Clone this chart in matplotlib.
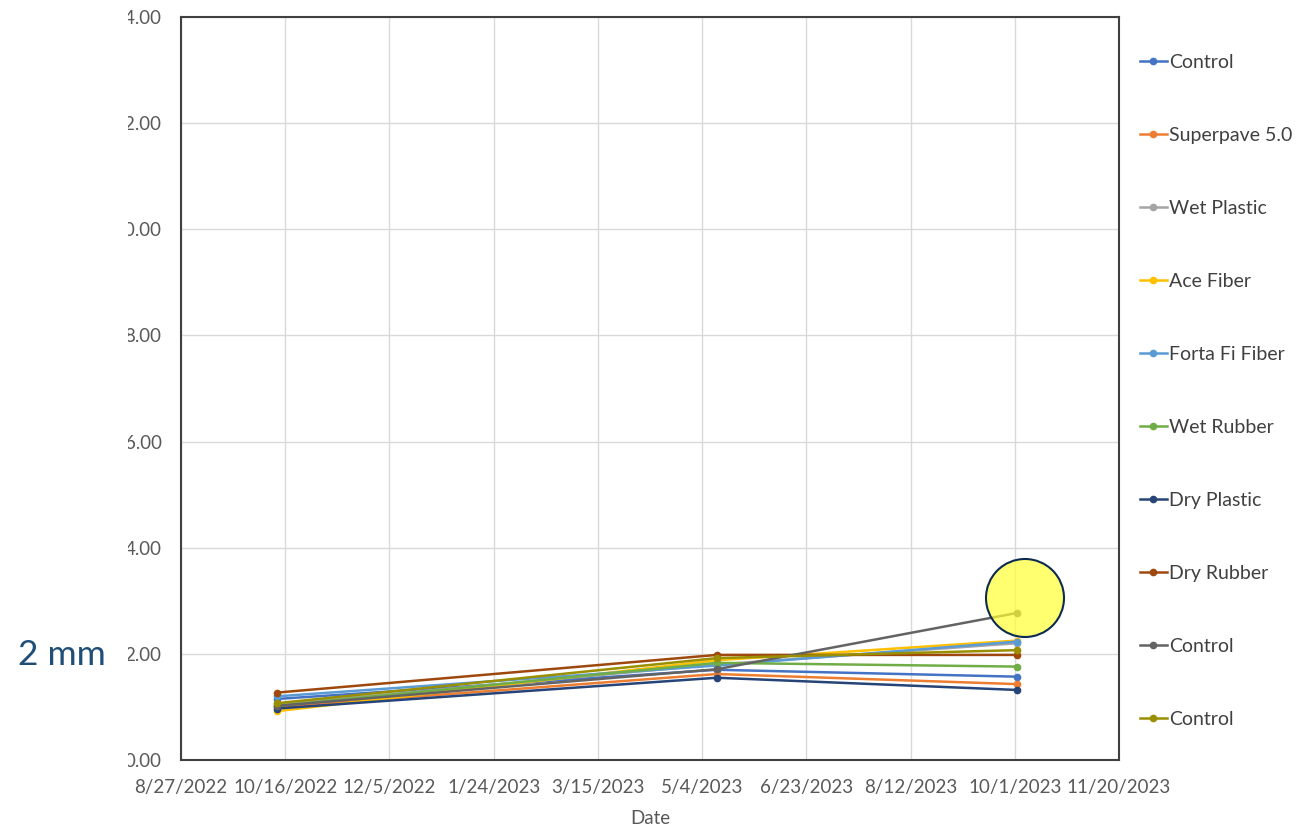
import matplotlib
matplotlib.use("Agg")
import matplotlib.pyplot as plt
import matplotlib.dates as mdates
from matplotlib.patches import Rectangle, Circle
from matplotlib.ticker import FuncFormatter, FixedLocator
import datetime as dt

plt.rcParams['font.family'] = ['Lato', 'DejaVu Sans']

# Survey dates
dates = [dt.date(2022, 10, 12), dt.date(2023, 5, 11), dt.date(2023, 10, 2)]

# Rut depth per section (mm)
series_names = ["Control", "Superpave 5.0", "Wet Plastic", "Ace Fiber", "Forta Fi Fiber",
                "Wet Rubber", "Dry Plastic", "Dry Rubber", "Control", "Control"]
control_a = [1.15, 1.70, 1.57]
superpave = [1.00, 1.62, 1.43]
wet_plastic = [1.05, 1.80, 2.20]
ace_fiber = [0.92, 1.88, 2.25]
forta_fi = [1.20, 1.78, 2.23]
wet_rubber = [1.02, 1.83, 1.76]
dry_plastic = [0.97, 1.55, 1.32]
dry_rubber = [1.27, 1.98, 1.98]
control_b = [1.02, 1.71, 2.77]
control_c = [1.07, 1.92, 2.07]
series_values = [control_a, superpave, wet_plastic, ace_fiber, forta_fi,
                 wet_rubber, dry_plastic, dry_rubber, control_b, control_c]
series_colors = ["#4472C4", "#ED7D31", "#A5A5A5", "#FFC000", "#5B9BD5",
                 "#70AD47", "#264478", "#9E480E", "#636363", "#998F00"]

y_ticks = [0, 2, 4, 6, 8, 10, 12, 14]
x_start = dt.date(2022, 8, 27)
x_end = dt.date(2023, 11, 20)
x_ticks = [x_start + dt.timedelta(days=50 * i) for i in range(10)]

W, H = 1308, 827
fig = plt.figure(figsize=(W / 100, H / 100), dpi=100)
ax = fig.add_axes([181 / W, 1 - 760 / H, (1119 - 181) / W, (760 - 17) / H])

for name, vals, col in zip(series_names, series_values, series_colors):
    ax.plot(dates, vals, color=col, lw=1.8, marker="o", ms=4.5, label=name)

ax.set_xlim(x_start, x_end)
ax.set_ylim(0, 14)
ax.xaxis.set_major_locator(FixedLocator([mdates.date2num(d) for d in x_ticks]))
ax.xaxis.set_major_formatter(FuncFormatter(
    lambda v, p: (lambda d: f"{d.month}/{d.day}/{d.year}")(mdates.num2date(v))))
ax.set_yticks(y_ticks)
ax.yaxis.set_major_formatter(FuncFormatter(lambda v, p: f"{v:.2f}"))

ax.grid(True, color="#D9D9D9", lw=1)
ax.set_axisbelow(True)
ax.tick_params(length=0, labelsize=13.5, colors="#595959")
ax.tick_params(axis="y", pad=14)
ax.tick_params(axis="x", pad=14)
for s in ax.spines.values():
    s.set_color("#404040")
    s.set_linewidth(1.5)
ax.set_xlabel("Date", fontsize=13.5, color="#595959", labelpad=10)

leg = ax.legend(loc="upper left", bbox_to_anchor=(1132 / W, 1 - 46 / H),
                bbox_transform=fig.transFigure, frameon=False, fontsize=14,
                labelspacing=2.88, handlelength=1.4, handletextpad=0.1,
                borderaxespad=0)
for t in leg.get_texts():
    t.set_color("#404040")

# White band hiding the left edge of the value labels
fig.patches.append(Rectangle((0, 0), 128 / W, 1, transform=fig.transFigure,
                             facecolor="white", edgecolor="none", zorder=5))

# Highlight on the final reading
fig.patches.append(Circle((1025 / 100, (H - 598) / 100), 0.39,
                          transform=fig.dpi_scale_trans, facecolor="#FFFF33",
                          alpha=0.7, edgecolor="none", zorder=6))
fig.patches.append(Circle((1025 / 100, (H - 598) / 100), 0.39,
                          transform=fig.dpi_scale_trans, facecolor="none",
                          edgecolor="#0D2B4E", lw=1.5, zorder=7))

fig.text(18 / W, 1 - 655 / H, "2 mm", fontsize=25.5, color="#1F4E79",
         ha="left", va="center", zorder=8)

fig.savefig("out.png", dpi=100, facecolor="white")
